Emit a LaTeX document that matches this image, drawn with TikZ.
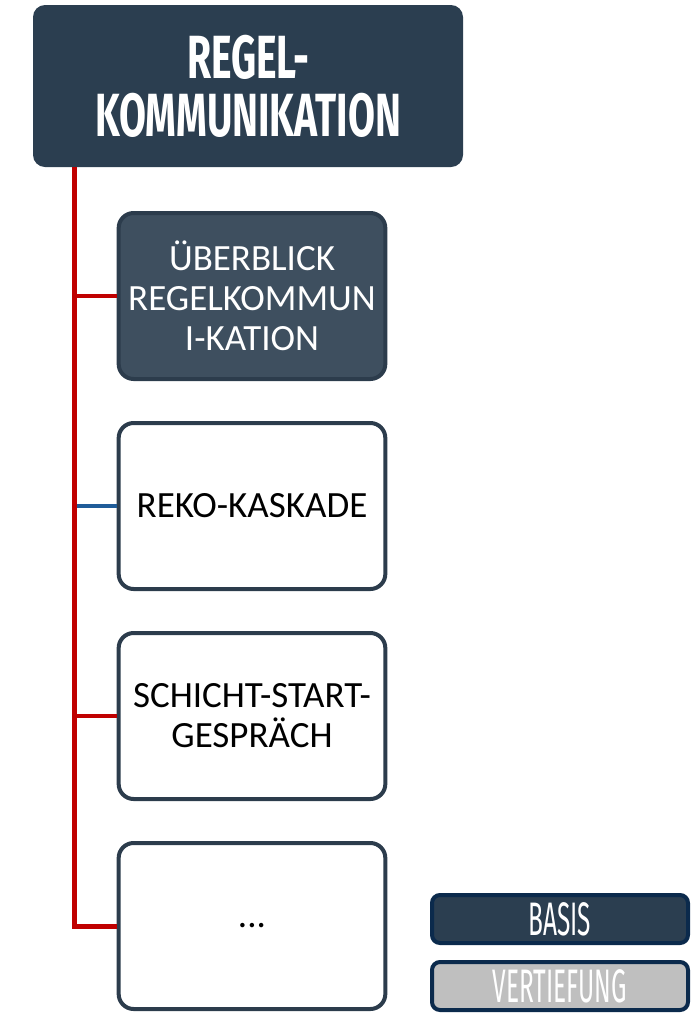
\documentclass[tikz,border=0pt]{standalone}
\usepackage{fontspec}
\setmainfont{Carlito}
\newfontfamily\titlefont[FakeStretch=0.64]{Fira Sans}
\newfontfamily\legendfont[FakeStretch=0.52]{Fira Sans}
\definecolor{navy}{HTML}{2B3E50}
\definecolor{slate}{HTML}{3E4F5F}
\definecolor{rim}{HTML}{2C3C4C}
\definecolor{legrim}{HTML}{0B2A4C}
\definecolor{spinered}{HTML}{C00000}
\definecolor{branchblue}{HTML}{1F5C99}
\definecolor{paleg}{HTML}{BFBFBF}
\begin{document}
\begin{tikzpicture}[x=1pt,y=-1pt,
  titlebox/.style={fill=navy, rounded corners=12pt, minimum width=430pt, minimum height=162pt,
    text=white, align=center, font=\titlefont\bfseries\fontsize{61}{58}\selectfont},
  topicbox/.style={draw=rim, line width=4pt, rounded corners=15pt, minimum width=266pt,
    minimum height=166pt, align=center, text width=260pt, font=\fontsize{37}{40}\selectfont},
  basisbox/.style={topicbox, fill=slate, text=white},
  plainbox/.style={topicbox, fill=white, text=black},
  legbox/.style={draw=legrim, line width=4pt, rounded corners=8pt, minimum width=256pt,
    minimum height=48pt, font=\legendfont\fontsize{47}{47}\selectfont, text=white},
  spine/.style={draw=spinered, line width=5pt},
  twig/.style={draw=spinered, line width=4pt},
  twigblue/.style={draw=branchblue, line width=4pt}]
\useasboundingbox (0,0) rectangle (692,1029);

% main heading
\node[titlebox] (title) at (248,86) {REGEL-\\KOMMUNIKATION};

% topic boxes
\node[basisbox] (b1) at (252,296) {ÜBERBLICK\\REGELKOMMUN\\I-KATION};
\node[plainbox] (b2) at (252,506) {REKO-KASKADE};
\node[plainbox] (b3) at (252,716) {SCHICHT-START-\\GESPRÄCH};
\node[plainbox] (b4) at (252,926) {...};

% tree connectors
\coordinate (spinetop) at (74,167);
\draw[twig] (b1.west -| spinetop) -- (b1.west);
\draw[twigblue] (b2.west -| spinetop) -- (b2.west);
\draw[twig] (b3.west -| spinetop) -- (b3.west);
\draw[spine] (spinetop) |- (b4.west);

% legend
\node[legbox, fill=navy] (basis) at (560,919) {BASIS};
\node[legbox, fill=paleg] (vert) at (560,986) {VERTIEFUNG};
\end{tikzpicture}
\end{document}
